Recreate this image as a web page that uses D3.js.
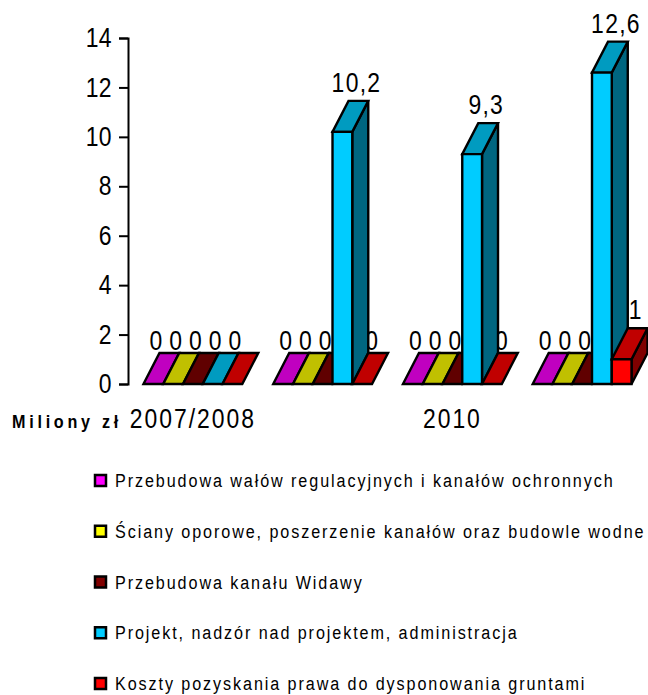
<!DOCTYPE html>
<html><head><meta charset="utf-8">
<script src="https://cdn.jsdelivr.net/npm/d3@7/dist/d3.min.js"></script>
<style>html,body{margin:0;padding:0;background:#fff}svg{display:block}text{font-family:"Liberation Sans",Arial,sans-serif;fill:#000}</style>
</head><body><svg id="c" width="648" height="695"></svg>
<script>
const tickLabels = ["2007/2008", "", "2010", ""];
const yTicks = [0, 2, 4, 6, 8, 10, 12, 14];
const seriesNames = [
  "Przebudowa wałów regulacyjnych i kanałów ochronnych",
  "Ściany oporowe, poszerzenie kanałów oraz budowle wodne",
  "Przebudowa kanału Widawy",
  "Projekt, nadzór nad projektem, administracja",
  "Koszty pozyskania prawa do dysponowania gruntami"
];
const walyValues = [0, 0, 0, 0];
const scianyValues = [0, 0, 0, 0];
const widawaValues = [0, 0, 0, 0];
const projektValues = [0, 10.2, 9.3, 12.6];
const kosztyValues = [0, 0, 0, 1];
const seriesValues = [walyValues, scianyValues, widawaValues, projektValues, kosztyValues];
const frontColors = ["#FF00FF", "#FFFF00", "#800000", "#00CCFF", "#FF0000"];
const topColors = ["#C000C0", "#C0C000", "#600000", "#009BC0", "#C00000"];
const sideColors = ["#800080", "#808000", "#400000", "#006680", "#800000"];
const face = '"Liberation Sans",Arial,sans-serif';

const svg = d3.select("#c");
const y = d3.scaleLinear().domain([0, 14]).range([384, 38]);
const x0 = d3.scaleBand().domain(d3.range(tickLabels.length)).range([128, 647]).paddingInner(31 / 130).paddingOuter(15.5 / 130);
const x1 = d3.scaleBand().domain(d3.range(seriesNames.length)).range([0, x0.bandwidth()]);
const depthX = 16, depthY = 31;
const fmt = v => String(v).replace(".", ",");

// value labels sit behind the bars
const labels = svg.append("g");
seriesValues.forEach((vals, s) => vals.forEach((v, g) => {
  const left = x0(g) + x1(s);
  const afterTall = s > 0 && seriesValues[s - 1][g] > 0;
  const off = v > 0 ? 24 : (afterTall ? 20 : 13);
  labels.append("text").attr("x", left + off).attr("y", y(v) - depthY - (v > 0 ? 9 : 3))
    .attr("text-anchor", "middle").attr("font-size", 27).attr("letter-spacing", 1.5).text(fmt(v));
}));

const bars = svg.append("g").attr("stroke", "#000").attr("stroke-width", 2.4).attr("stroke-linejoin", "miter");
tickLabels.forEach((_, g) => seriesValues.forEach((vals, s) => {
  const l = x0(g) + x1(s), r = l + x1.bandwidth(), t = y(vals[g]), b = y(0);
  const poly = (pts, fill) => bars.append("path").attr("d", d3.line()(pts) + "Z").attr("fill", fill);
  if (vals[g] > 0) poly([[r, b], [r + depthX, b - depthY], [r + depthX, t - depthY], [r, t]], sideColors[s]);
  poly([[l, t], [l + depthX, t - depthY], [r + depthX, t - depthY], [r, t]], topColors[s]);
  if (vals[g] > 0) poly([[l, b], [r, b], [r, t], [l, t]], frontColors[s]);
}));

const yAxis = d3.axisLeft(y).tickValues(yTicks).tickSize(9).tickPadding(7);
const gy = svg.append("g").attr("transform", "translate(128,0)").call(yAxis);
gy.selectAll("path,line").attr("stroke", "#000").attr("stroke-width", 2);
gy.selectAll("text").attr("font-size", 27).attr("letter-spacing", 0.5).attr("font-family", face).attr("fill", "#000");

const xAxis = d3.axisBottom(x0).tickSize(0).tickPadding(0).tickFormat(i => tickLabels[i]);
const gx = svg.append("g").attr("transform", "translate(0,384)").call(xAxis);
gx.select(".domain").remove();
gx.selectAll("text").attr("font-size", 27).attr("letter-spacing", 2.3).attr("dy", 0).attr("y", 44)
  .attr("font-family", face).attr("fill", "#000");

svg.append("text").attr("x", 12).attr("y", 428).attr("font-size", 19).attr("font-weight", "bold")
  .attr("letter-spacing", 4.4).text("Miliony zł");

const legendY = d3.scalePoint().domain(d3.range(seriesNames.length)).range([480, 683]);
const lg = svg.append("g").selectAll("g").data(seriesNames).join("g")
  .attr("transform", (d, i) => `translate(95,${legendY(i)})`);
lg.append("rect").attr("x", 0).attr("y", -5).attr("width", 11).attr("height", 11)
  .attr("fill", (d, i) => frontColors[i]).attr("stroke", "#000").attr("stroke-width", 2.5);
lg.append("text").attr("x", 20).attr("y", 7).attr("font-size", 19).attr("letter-spacing", 2.25).text(d => d);

// the reference uses a condensed face: squeeze every text horizontally about its own x
const squeeze = 0.85;
svg.selectAll("text").each(function () {
  const ax = +this.getAttribute("x") || 0;
  d3.select(this).attr("transform", `translate(${ax * (1 - squeeze)},0) scale(${squeeze},1)`);
});
</script></body></html>
